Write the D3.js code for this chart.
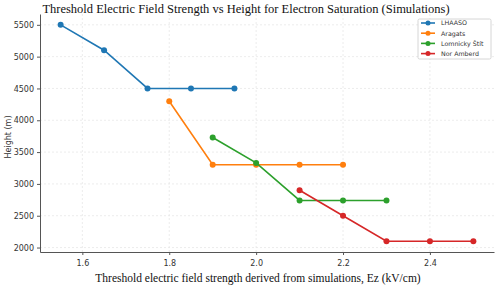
<!DOCTYPE html>
<html><head><meta charset="utf-8">
<script src="https://cdn.jsdelivr.net/npm/d3@7"></script>
<style>body{margin:0;background:#fff}</style>
</head><body><svg id="c" width="500" height="289"></svg>
<script>
const title = "Threshold Electric Field Strength vs Height for Electron Saturation (Simulations)";
const xLabel = "Threshold electric field strength derived from simulations, Ez (kV/cm)";
const yLabel = "Height (m)";
const seriesNames = ["LHAASO", "Aragats", "Lomnicky Štít", "Nor Amberd"];
const seriesColors = ["#1f77b4", "#ff7f0e", "#2ca02c", "#d62728"];
const lhaasoX = [1.55, 1.65, 1.75, 1.85, 1.95];
const lhaasoY = [5500, 5100, 4500, 4500, 4500];
const aragatsX = [1.8, 1.9, 2.0, 2.1, 2.2];
const aragatsY = [4300, 3300, 3300, 3300, 3300];
const lomnickyX = [1.9, 2.0, 2.1, 2.2, 2.3];
const lomnickyY = [3730, 3330, 2740, 2740, 2740];
const norAmberdX = [2.1, 2.2, 2.3, 2.4, 2.5];
const norAmberdY = [2900, 2500, 2100, 2100, 2100];
const xTicks = [1.6, 1.8, 2.0, 2.2, 2.4];
const yTicks = [2000, 2500, 3000, 3500, 4000, 4500, 5000, 5500];

const series = [
  {name: seriesNames[0], color: seriesColors[0], xs: lhaasoX, ys: lhaasoY},
  {name: seriesNames[1], color: seriesColors[1], xs: aragatsX, ys: aragatsY},
  {name: seriesNames[2], color: seriesColors[2], xs: lomnickyX, ys: lomnickyY},
  {name: seriesNames[3], color: seriesColors[3], xs: norAmberdX, ys: norAmberdY}
];

const svg = d3.select("#c");
const L = 40, R = 494, T = 14, B = 252;
const x = d3.scaleLinear().domain([1.5025, 2.5475]).range([L, R]);
const y = d3.scaleLinear().domain([1930, 5670]).range([B, T]);

// grid
const g = svg.append("g");
g.selectAll(".gx").data(xTicks).enter().append("line")
  .attr("x1", d => x(d)).attr("x2", d => x(d)).attr("y1", T).attr("y2", B)
  .attr("stroke", "#e4e4e4").attr("stroke-width", 0.7).attr("stroke-dasharray", "2,2");
g.selectAll(".gy").data(yTicks).enter().append("line")
  .attr("x1", L).attr("x2", R).attr("y1", d => y(d)).attr("y2", d => y(d))
  .attr("stroke", "#e4e4e4").attr("stroke-width", 0.7).attr("stroke-dasharray", "2,2");

// axes
const xAxis = svg.append("g").attr("transform", `translate(0,${B})`)
  .call(d3.axisBottom(x).tickValues(xTicks).tickFormat(d3.format(".1f")).tickSize(3).tickSizeOuter(0));
const yAxis = svg.append("g").attr("transform", `translate(${L},0)`)
  .call(d3.axisLeft(y).tickValues(yTicks).tickFormat(d3.format("d")).tickSize(3).tickSizeOuter(0));
[xAxis, yAxis].forEach(a => {
  a.select(".domain").attr("stroke", "#555").attr("stroke-width", 1);
  a.selectAll(".tick line").attr("stroke", "#555");
  a.selectAll("text").attr("fill", "#333").attr("font-family", "DejaVu Sans, sans-serif").attr("font-size", 8);
});
xAxis.selectAll("text").attr("dy", "1.05em");

// lines
const line = d3.line().x(d => x(d[0])).y(d => y(d[1]));
series.forEach(s => {
  const pts = s.xs.map((v, i) => [v, s.ys[i]]);
  svg.append("path").datum(pts).attr("d", line).attr("fill", "none")
    .attr("stroke", s.color).attr("stroke-width", 1.6);
  svg.selectAll(null).data(pts).enter().append("circle")
    .attr("cx", d => x(d[0])).attr("cy", d => y(d[1])).attr("r", 3).attr("fill", s.color);
});

// title & labels
svg.append("text").attr("x", 246).attr("y", 13).attr("text-anchor", "middle")
  .attr("font-family", "Liberation Serif, Times New Roman, serif").attr("font-size", 12.5)
  .attr("fill", "#111").text(title);
svg.append("text").attr("x", 258).attr("y", 282).attr("text-anchor", "middle")
  .attr("font-family", "Liberation Serif, Times New Roman, serif").attr("font-size", 11.5)
  .attr("fill", "#111").text(xLabel);
svg.append("text").attr("transform", "translate(11,137) rotate(-90)").attr("text-anchor", "middle")
  .attr("font-family", "DejaVu Sans, sans-serif").attr("font-size", 8)
  .attr("fill", "#333").text(yLabel);

// legend
const lg = svg.append("g").attr("transform", "translate(418,19)");
lg.append("rect").attr("width", 73).attr("height", 40).attr("fill", "#fff")
  .attr("stroke", "#ccc").attr("stroke-width", 0.8).attr("rx", 1.5);
series.forEach((s, i) => {
  const yy = 4 + i * 10.2;
  lg.append("line").attr("x1", 3).attr("x2", 17).attr("y1", yy).attr("y2", yy)
    .attr("stroke", s.color).attr("stroke-width", 1.6);
  lg.append("circle").attr("cx", 10).attr("cy", yy).attr("r", 2.5).attr("fill", s.color);
  lg.append("text").attr("x", 23).attr("y", yy + 2.3).attr("font-family", "DejaVu Sans, sans-serif")
    .attr("font-size", 6.3).attr("fill", "#333").text(s.name);
});
</script></body></html>
